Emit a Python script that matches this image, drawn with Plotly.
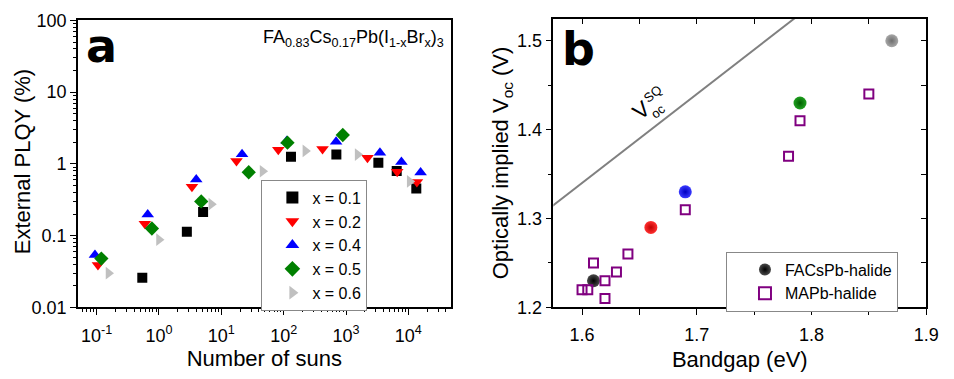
import plotly.graph_objects as go

# ---------------- Panel a data ----------------
suns_x01 = [0.54, 2.8, 5.1, 131, 700, 3300, 6500, 13400]
plqy_x01 = [0.026, 0.113, 0.213, 1.26, 1.35, 1.04, 0.80, 0.456]

suns_x02 = [0.105, 0.593, 3.38, 17.5, 82, 420, 2210, 6620, 13700]
plqy_x02 = [0.039, 0.147, 0.48, 1.10, 1.57, 1.62, 1.22, 0.78, 0.56]

suns_x04 = [0.094, 0.66, 3.96, 21.5, 112, 693, 3500, 7740, 15700]
plqy_x04 = [0.054, 0.197, 0.605, 1.36, 2.09, 2.04, 1.43, 1.06, 0.76]

suns_x05 = [0.119, 0.77, 4.76, 27.5, 115, 887]
plqy_x05 = [0.048, 0.126, 0.30, 0.765, 1.98, 2.53]

suns_x06 = [0.155, 1.0, 6.9, 45.9, 223, 1535, 10500]
plqy_x06 = [0.030, 0.088, 0.275, 0.79, 1.52, 1.35, 0.57]

series_names = ["x = 0.1", "x = 0.2", "x = 0.4", "x = 0.5", "x = 0.6"]
series_colors = ["#000000", "#ff0000", "#0000ff", "#008000", "#c0c0c0"]
series_symbols = ["square", "triangle-down", "triangle-up", "diamond", "triangle-right"]

x_tickvals_a = [0.1, 1, 10, 100, 1000, 10000]
x_ticktext_a = ["10<sup>-1</sup>", "10<sup>0</sup>", "10<sup>1</sup>", "10<sup>2</sup>",
                "10<sup>3</sup>", "10<sup>4</sup>"]
y_tickvals_a = [0.01, 0.1, 1, 10, 100]
y_ticktext_a = ["0.01", "0.1", "1", "10", "100"]

# ---------------- Panel b data ----------------
facs_bandgap = [1.61, 1.66, 1.69, 1.79, 1.87]
facs_voc = [1.23, 1.29, 1.33, 1.43, 1.50]
facs_edge = ["#000000", "#c00000", "#0000c0", "#006000", "#6e6e6e"]
facs_center = ["#4a4a4a", "#ff3030", "#3a3aff", "#20a020", "#a8a8a8"]

mapb_bandgap = [1.60, 1.605, 1.61, 1.62, 1.62, 1.63, 1.64, 1.69, 1.78, 1.79, 1.85]
mapb_voc = [1.22, 1.22, 1.25, 1.23, 1.21, 1.24, 1.26, 1.31, 1.37, 1.41, 1.44]

sq_bandgap = [1.55, 1.80]
sq_voc = [1.29, 1.54]

FONT = "Liberation Sans, Arial, sans-serif"
W, H = 954, 379

fig = go.Figure()

suns = [suns_x01, suns_x02, suns_x04, suns_x05, suns_x06]
plqy = [plqy_x01, plqy_x02, plqy_x04, plqy_x05, plqy_x06]
for xs, ys, nm, col, sym in zip(suns, plqy, series_names, series_colors, series_symbols):
    fig.add_trace(go.Scatter(
        x=xs, y=ys, mode="markers", name=nm, xaxis="x", yaxis="y", legend="legend",
        marker=dict(symbol=sym, color=col, size=11 if sym != "square" else 10,
                    line=dict(width=0)),
    ))

fig.add_trace(go.Scatter(
    x=sq_bandgap, y=sq_voc, mode="lines", xaxis="x2", yaxis="y2", showlegend=False,
    line=dict(color="#808080", width=2),
))
fig.add_trace(go.Scatter(
    x=facs_bandgap, y=facs_voc, mode="markers", name="FACsPb-halide",
    xaxis="x2", yaxis="y2", legend="legend2",
    marker=dict(symbol="circle", size=13, color=facs_center,
                gradient=dict(type="radial", color=facs_edge),
                line=dict(width=0)),
))
fig.add_trace(go.Scatter(
    x=mapb_bandgap, y=mapb_voc, mode="markers", name="MAPb-halide",
    xaxis="x2", yaxis="y2", legend="legend2",
    marker=dict(symbol="square-open", size=9, color="#800080",
                line=dict(width=2, color="#800080")),
))
# invisible trace for mirrored inward ticks of panel b
fig.add_trace(go.Scatter(x=[], y=[], xaxis="x3", yaxis="y3", showlegend=False))

minor_x_a = [m * 10 ** e for e in range(-2, 5) for m in range(2, 10)]
minor_y_a = [m * 10 ** e for e in range(-3, 2) for m in range(2, 10)]

ax_common = dict(showgrid=False, zeroline=False, showline=True, linecolor="black",
                 linewidth=1.5, tickcolor="black", tickwidth=1.2,
                 tickfont=dict(family=FONT, size=18, color="black"))

dom_ax = [79 / W, 457 / W]
dom_ay = [1 - 314 / H, 1 - 11 / H]
dom_bx = [561 / W, 939 / W]
dom_by = [1 - 314 / H, 1 - 9 / H]

fig.update_layout(
    width=W, height=H, margin=dict(l=0, r=0, t=0, b=0),
    paper_bgcolor="white", plot_bgcolor="white",
    xaxis=dict(ax_common, type="log", domain=dom_ax, anchor="y",
               range=[-1.30, 4.68], mirror=True, ticks="outside", ticklen=6,
               ticklabelstandoff=5,
               tickmode="array", tickvals=x_tickvals_a, ticktext=x_ticktext_a,
               minor=dict(tickmode="array", tickvals=minor_x_a, ticks="outside",
                          ticklen=3, tickcolor="black", showgrid=False),
               title=dict(text="Number of suns", font=dict(family=FONT, size=22, color="black"),
                          standoff=6)),
    yaxis=dict(ax_common, type="log", domain=dom_ay, anchor="x",
               range=[-2, 2], mirror=True, ticks="outside", ticklen=6,
               tickmode="array", tickvals=y_tickvals_a, ticktext=y_ticktext_a,
               minor=dict(tickmode="array", tickvals=minor_y_a, ticks="outside",
                          ticklen=3, tickcolor="black", showgrid=False)),
    xaxis2=dict(ax_common, domain=dom_bx, anchor="y2", range=[1.575, 1.9],
                mirror=True, ticks="outside", ticklen=6, tick0=1.6, dtick=0.1,
                ticklabelstandoff=4,
                minor=dict(dtick=0.05, tick0=1.6, ticks="outside", ticklen=6,
                           tickcolor="black", showgrid=False),
                title=dict(text="Bandgap (eV)", font=dict(family=FONT, size=22, color="black"),
                           standoff=8)),
    yaxis2=dict(ax_common, domain=dom_by, anchor="x2", range=[1.2, 1.525],
                mirror=True, ticks="outside", ticklen=6, tick0=1.2, dtick=0.1,
                tickformat=".1f",
                minor=dict(dtick=0.05, tick0=1.2, ticks="outside", ticklen=4,
                           tickcolor="black", showgrid=False),
                title=dict(text="Optically implied V<sub>oc</sub> (V)",
                           font=dict(family=FONT, size=22, color="black"), standoff=2)),
    xaxis3=dict(overlaying="x2", side="top", anchor="y3", range=[1.575, 1.9],
                showgrid=False, zeroline=False, showline=False, showticklabels=False,
                ticks="inside", ticklen=5, tickcolor="black", tick0=1.6, dtick=0.05),
    yaxis3=dict(overlaying="y2", side="right", anchor="x3", range=[1.2, 1.525],
                showgrid=False, zeroline=False, showline=False, showticklabels=False,
                ticks="inside", ticklen=5, tickcolor="black", tick0=1.2, dtick=0.05),
    legend=dict(x=265 / W, y=1 - 179 / H, xanchor="left", yanchor="top",
                bordercolor="#888888", borderwidth=1, bgcolor="white",
                font=dict(family=FONT, size=16, color="black"), indentation=10,
                tracegroupgap=0, itemsizing="constant"),
    legend2=dict(x=736 / W, y=1 - 255 / H, xanchor="left", yanchor="top",
                 bordercolor="#888888", borderwidth=1, bgcolor="white",
                 font=dict(family=FONT, size=16, color="black"), indentation=18,
                 tracegroupgap=0, itemsizing="constant"),
    showlegend=True,
)

fig.add_annotation(text="External PLQY (%)", xref="paper", yref="paper",
                   x=23 / W, y=1 - 160 / H, xanchor="center", yanchor="middle",
                   showarrow=False, textangle=-90,
                   font=dict(family=FONT, size=22, color="black"))
fig.add_annotation(text="a", xref="paper", yref="paper", x=103 / W, y=1 - 38 / H,
                   xanchor="center", yanchor="middle", showarrow=False,
                   font=dict(family="DejaVu Sans", size=46, color="black", weight="bold"))
fig.add_annotation(text="b", xref="paper", yref="paper", x=586 / W, y=1 - 41 / H,
                   xanchor="center", yanchor="middle", showarrow=False,
                   font=dict(family="DejaVu Sans", size=46, color="black", weight="bold"))
fig.add_annotation(text="FA<sub>0.83</sub>Cs<sub>0.17</sub>Pb(I<sub>1-x</sub>Br<sub>x</sub>)<sub>3</sub>",
                   xref="paper", yref="paper", x=452 / W, y=1 - 30 / H,
                   xanchor="right", yanchor="middle", showarrow=False,
                   font=dict(family=FONT, size=18, color="black"))
# V_oc^SQ label, with stacked sub/superscript
fig.add_annotation(text="V", xref="paper", yref="paper", x=650 / W, y=1 - 106 / H,
                   xanchor="center", yanchor="middle", showarrow=False,
                   textangle=-39, font=dict(family=FONT, size=22, color="black"))
fig.add_annotation(text="oc", xref="paper", yref="paper", x=667 / W, y=1 - 107 / H,
                   xanchor="center", yanchor="middle", showarrow=False,
                   textangle=-39, font=dict(family=FONT, size=13, color="black"))
fig.add_annotation(text="SQ", xref="paper", yref="paper", x=662 / W, y=1 - 88 / H,
                   xanchor="center", yanchor="middle", showarrow=False,
                   textangle=-39, font=dict(family=FONT, size=13, color="black"))

fig.write_html("out.html")
